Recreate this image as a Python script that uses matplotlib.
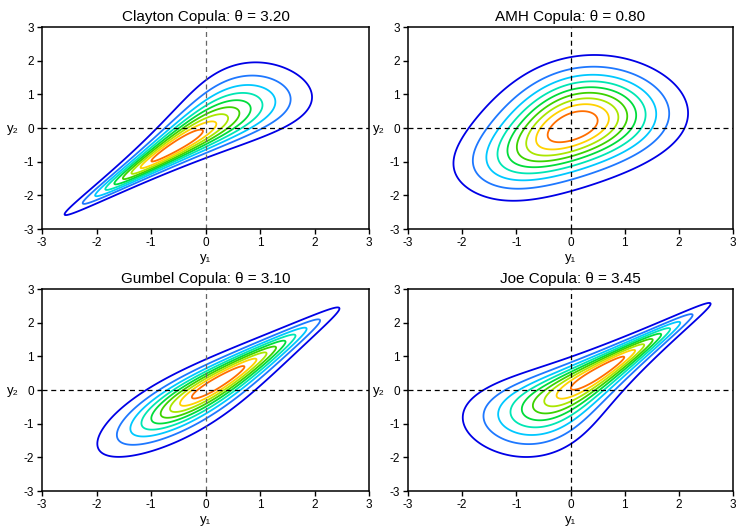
import math
import numpy as np
from matplotlib import pyplot as plt

plt.rcParams['font.family'] = ['Liberation Sans', 'DejaVu Sans']
plt.rcParams['axes.unicode_minus'] = False

# copula families and parameters shown in the panels
families = ['Clayton', 'AMH', 'Gumbel', 'Joe']
thetas = [3.20, 0.80, 3.10, 3.45]

# contour levels as fractions of each panel's peak density
fractions = [0.1, 0.2, 0.3, 0.4, 0.5, 0.6, 0.7, 0.8, 0.9]
colors = ['#0000e6', '#1e78ff', '#00c8ff', '#00e6b4', '#00dc3c',
          '#3cd200', '#aae600', '#ffd200', '#ff6e00']
ticks = [-3, -2, -1, 0, 1, 2, 3]


def norm_cdf(y):
    return 0.5 * np.frompyfunc(math.erfc, 1, 1)(-y / math.sqrt(2)).astype(float)


def norm_sf(y):
    return 0.5 * np.frompyfunc(math.erfc, 1, 1)(y / math.sqrt(2)).astype(float)


def copula_density(name, th, y1, y2):
    u, v = norm_cdf(y1), norm_cdf(y2)
    if name == 'Clayton':
        return ((1 + th) * (u * v) ** (-th - 1)
                * (u ** -th + v ** -th - 1) ** (-2 - 1 / th))
    if name == 'AMH':
        num = 1 + th * ((1 + u) * (1 + v) - 3) + th ** 2 * (1 - u) * (1 - v)
        return num / (1 - th * (1 - u) * (1 - v)) ** 3
    if name == 'Gumbel':
        x, y = -np.log(u), -np.log(v)
        a = x ** th + y ** th
        cc = np.exp(-a ** (1 / th))
        return (cc / (u * v) * (x * y) ** (th - 1) * a ** (2 / th - 2)
                * (1 + (th - 1) * a ** (-1 / th)))
    if name == 'Joe':
        ub, vb = norm_sf(y1) ** th, norm_sf(y2) ** th
        s = ub + vb - ub * vb
        return (s ** (1 / th - 2) * (ub * vb) ** ((th - 1) / th)
                * (th - 1 + s))


g = np.linspace(-3, 3, 401)
Y1, Y2 = np.meshgrid(g, g)
phi = np.exp(-0.5 * (Y1 ** 2 + Y2 ** 2)) / (2 * np.pi)

fig = plt.figure(figsize=(7.37, 5.26), dpi=100)
positions = [[0.057, 0.5646, 0.444, 0.384], [0.5536, 0.5646, 0.441, 0.384],
             [0.057, 0.0665, 0.444, 0.384], [0.5536, 0.0665, 0.441, 0.384]]

for i, (name, th, pos) in enumerate(zip(families, thetas, positions)):
    ax = fig.add_axes(pos)
    dens = copula_density(name, th, Y1, Y2) * phi
    lv = [f * np.nanmax(dens) for f in fractions]
    ax.contour(Y1, Y2, dens, levels=lv, colors=colors, linewidths=1.3)
    ax.axhline(0, color='black', ls=(0, (4, 3)), lw=0.9)
    ax.axvline(0, color='0.4' if i % 2 == 0 else 'black', ls=(0, (4, 3)), lw=0.9)
    ax.set_xlim(-3, 3)
    ax.set_ylim(-3, 3)
    ax.set_xticks(ticks)
    ax.set_yticks(ticks)
    ax.tick_params(labelsize=8.5, length=3.5, width=1, direction='out', pad=2.5)
    for sp in ax.spines.values():
        sp.set_linewidth(1.1)
    ax.set_title(f'{name} Copula: θ = {th:.2f}', fontsize=11, pad=4)
    ax.set_xlabel('y₁', fontsize=9.5, va='center')
    ax.xaxis.set_label_coords(0.5, -0.145)
    ax.set_ylabel('y₂', fontsize=9.5, rotation=0, va='center', ha='center')
    ax.yaxis.set_label_coords(-0.088, 0.495)

plt.savefig('out.png', dpi=100)
